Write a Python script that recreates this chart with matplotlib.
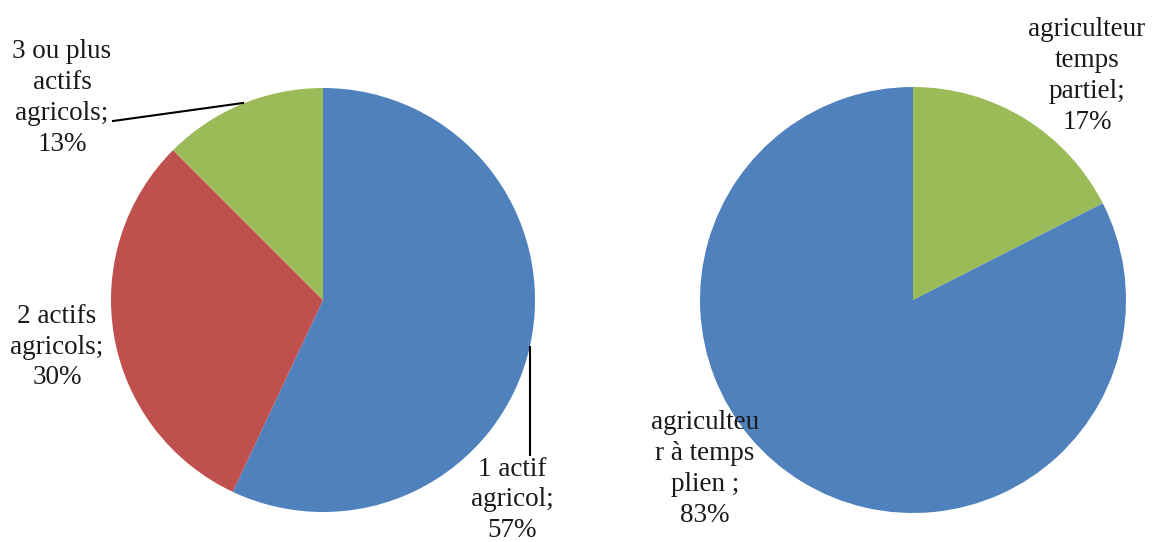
import matplotlib.pyplot as plt

# data (shares; labels show the rounded values)
left_labels = ['1 actif\nagricol;\n57%', '2 actifs\nagricols;\n30%', '3 ou plus\nactifs\nagricols;\n13%']
left_values = [57.0, 30.5, 12.5]
right_labels = ['agriculteur\ntemps\npartiel;\n17%', 'agriculteu\nr à temps\nplien ;\n83%']
right_values = [17.5, 82.5]

blue, red, green = '#4F81BD', '#C0504D', '#9BBB59'

W, H = 1158, 542
fig = plt.figure(figsize=(W / 100, H / 100), dpi=100)
ax = fig.add_axes([0, 0, 1, 1])
ax.set_aspect('equal')
ax.axis('off')

# left pie, clockwise from 12 o'clock
ax.pie(left_values, colors=[blue, red, green], startangle=90, counterclock=False,
       center=(323, H - 300), radius=212, wedgeprops=dict(linewidth=0))
# right pie
ax.pie(right_values, colors=[green, blue], startangle=90, counterclock=False,
       center=(913, H - 300), radius=213, wedgeprops=dict(linewidth=0))
ax.set_xlim(0, W)
ax.set_ylim(0, H)

font = dict(family='Liberation Serif', fontsize=19.5, ha='center', va='center',
            multialignment='center', linespacing=1.3, color='#1a1a1a')

# label positions (pixels from top-left)
left_pos = [(512, 500), (57, 347), (62, 98)]
right_pos = [(1087, 76), (705, 469)]
for txt, (x, y) in zip(left_labels, left_pos):
    ax.text(x, H - y, txt, **font)
for txt, (x, y) in zip(right_labels, right_pos):
    ax.text(x, H - y, txt, **font)

# leader lines
ax.plot([113, 243], [H - 121, H - 103], color='black', lw=1.5)
ax.plot([530, 530], [H - 347, H - 455], color='black', lw=1.5)

fig.savefig('out.png', dpi=100)
